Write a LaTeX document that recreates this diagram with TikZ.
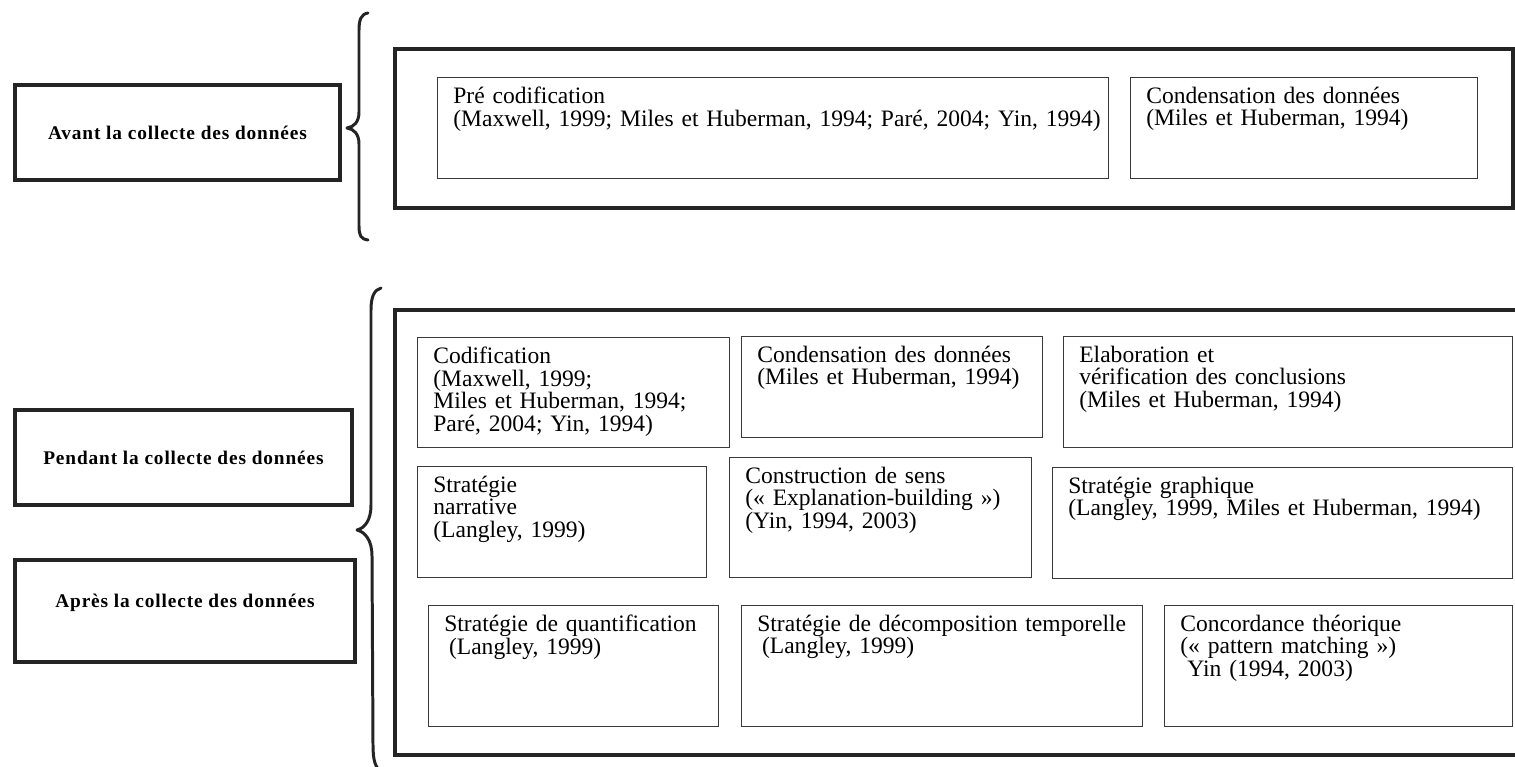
\documentclass[tikz,border=0pt]{standalone}
\usepackage{fontspec}
\setmainfont{Liberation Serif}
\newfontfamily\labelfont{Liberation Serif}[LetterSpace=4.5]
\definecolor{ink}{HTML}{242424}
\definecolor{thin}{HTML}{3A3A3A}
\newdimen\px \px=0.02cm
% box node from its two corners: name, x1, y1, x2, y2, style, text
\newcommand\rbox[7]{%
  \node[#6, anchor=north west,
        minimum width={(#4-#2)*\px}, minimum height={(#5-#3)*\px}]
        (#1) at (#2,#3) {#7};}
% text block set in the top left corner of a box
\newcommand\btext[2]{%
  \node[txt] (#1-t) at ([xshift=16*\px, yshift=-9.5*\px]#1.north west) {#2};}
\begin{document}
\begin{tikzpicture}[x=0.02cm, y=-0.02cm,
  frame/.style={draw=ink, line width=2.5pt, inner sep=0pt},
  lab/.style={draw=ink, line width=2.2pt, inner sep=0pt,
              font=\labelfont\bfseries\fontsize{11}{13}\selectfont, text=black},
  cell/.style={draw=thin, line width=0.75pt, inner sep=0pt},
  txt/.style={anchor=north west, inner sep=0pt, align=left, text width=20cm,
              font=\fontsize{13.4}{12.9}\selectfont, text=black},
  brace/.style={draw=ink, line width=1.7pt, line cap=round, line join=round}]
\useasboundingbox (0,0) rectangle (1515,767);

% phase labels
\rbox{avant}{13}{83}{338}{178}{lab}{Avant la collecte des données}
\rbox{pendant}{13}{408}{350}{503}{lab}{Pendant la collecte des données}
\rbox{apres}{13}{558}{353}{660}{lab}{\raisebox{12pt}{Après la collecte des données}}

% braces
\draw[brace] (368,13) .. controls (361,14) and (359,20) .. (359,30)
  -- (359,112) .. controls (359,122) and (354,127) .. (347,128)
  .. controls (354,129) and (359,134) .. (359,144)
  -- (359,226) .. controls (359,236) and (361,239) .. (368,240);
\draw[brace] (381,288) .. controls (374,290) and (371,297) .. (371,310)
  -- (371,505) .. controls (371,520) and (365,528) .. (357,530)
  .. controls (365,532) and (372,540) .. (372,556)
  -- (373,745) .. controls (373,760) and (375,768) .. (382,772);

% frames
\rbox{haut}{393}{47}{1511}{206}{frame}{}
\rbox{bas}{393}{308}{1540}{753}{frame}{}

% before data collection
\rbox{pre}{437}{77}{1108}{178}{cell}{}
\btext{pre}{Pré codification\\(Maxwell, 1999; Miles et Huberman, 1994; Paré, 2004; Yin, 1994)}
\rbox{condA}{1130}{77}{1477}{178}{cell}{}
\btext{condA}{Condensation des données\\(Miles et Huberman, 1994)}

% during and after data collection
\rbox{codif}{417}{337}{729}{447}{cell}{}
\btext{codif}{Codification\\(Maxwell, 1999;\\Miles et Huberman, 1994;\\Paré, 2004; Yin, 1994)}
\rbox{condB}{741}{336}{1042}{437}{cell}{}
\btext{condB}{Condensation des données\\(Miles et Huberman, 1994)}
\rbox{elab}{1063}{336}{1512}{447}{cell}{}
\btext{elab}{Elaboration et\\vérification des conclusions\\(Miles et Huberman, 1994)}

\rbox{narr}{417}{466}{706}{577}{cell}{}
\btext{narr}{Stratégie\\narrative\\(Langley, 1999)}
\rbox{constr}{729}{457}{1031}{577}{cell}{}
\btext{constr}{Construction de sens\\(« Explanation-building »)\\(Yin, 1994, 2003)}
\rbox{graph}{1052}{467}{1512}{578}{cell}{}
\btext{graph}{Stratégie graphique\\(Langley, 1999, Miles et Huberman, 1994)}

\rbox{quant}{428}{605}{718}{726}{cell}{}
\btext{quant}{Stratégie de quantification\\\hspace*{0.2em}(Langley, 1999)}
\rbox{decomp}{741}{605}{1142}{726}{cell}{}
\btext{decomp}{Stratégie de décomposition temporelle\\\hspace*{0.2em}(Langley, 1999)}
\rbox{concord}{1164}{605}{1512}{726}{cell}{}
\btext{concord}{Concordance théorique\\(« pattern matching »)\\\hspace*{0.3em}Yin (1994, 2003)}
\end{tikzpicture}
\end{document}
